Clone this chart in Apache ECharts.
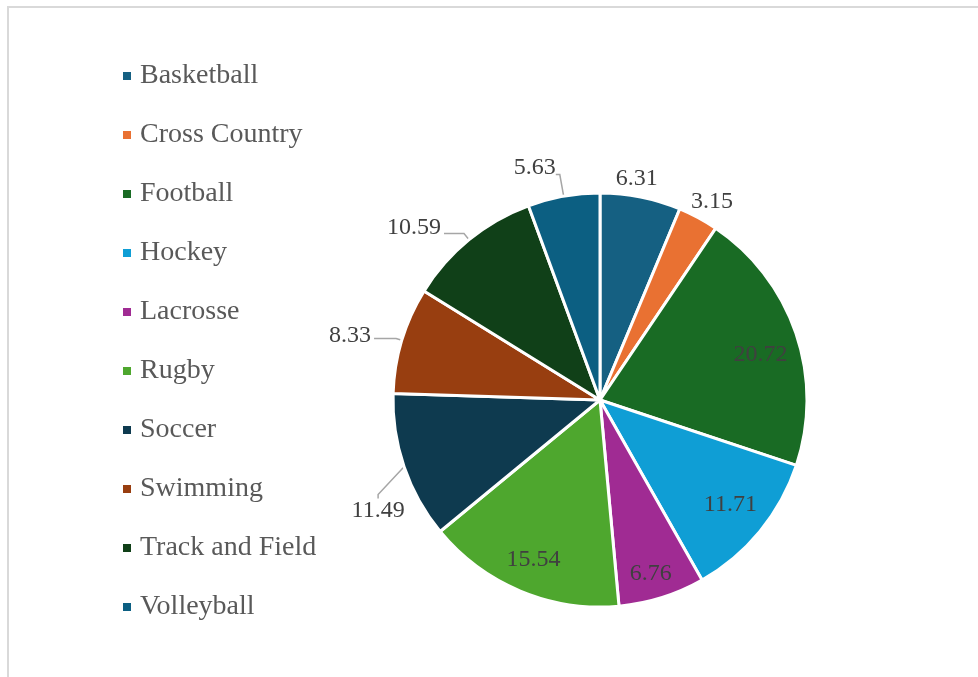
<!DOCTYPE html>
<html>
<head>
<meta charset="utf-8">
<script src="https://cdn.jsdelivr.net/npm/echarts@6/dist/echarts.min.js"></script>
<style>
  html, body { margin: 0; padding: 0; background: #ffffff; }
  #frame { position: absolute; left: 7px; top: 6px; width: 1000px; height: 700px;
           border-left: 2px solid #d9d9d9; border-top: 2px solid #d9d9d9; }
  #chart { position: absolute; left: 0; top: 0; width: 978px; height: 677px; }
</style>
</head>
<body>
<div id="frame"></div>
<div id="chart"></div>
<script>
// Share of athletes by sport (percent)
const sports = ['Basketball', 'Cross Country', 'Football', 'Hockey', 'Lacrosse',
                'Rugby', 'Soccer', 'Swimming', 'Track and Field', 'Volleyball'];
const shares = [6.31, 3.15, 20.72, 11.71, 6.76, 15.54, 11.49, 8.33, 10.59, 5.63];
const sliceColors = ['#156082', '#E97132', '#196B24', '#0F9ED5', '#A02B93',
                     '#4EA72E', '#0E3A4F', '#983E10', '#104018', '#0C5F82'];

// Slices whose value is printed inside the wedge
const insideLabels = ['Football', 'Hockey', 'Lacrosse', 'Rugby'];
// Leader line settings for labels drawn outside the pie
const outsideLines = {
  'Basketball':      { show: false, length: 6, length2: 0 },
  'Cross Country':   { show: false, length: 6, length2: 0 },
  'Volleyball':      { show: true, length: 22, length2: 4 },
  'Track and Field': { show: true, length: 8, length2: 20 },
  'Swimming':        { show: true, length: 6, length2: 22 },
  'Soccer':          { show: true, length: 30, length2: 4 }
};
// Small label nudges [dx, dy] in pixels
const labelNudges = {
  'Basketball':      [-29, -12],
  'Cross Country':   [-13, -11],
  'Volleyball':      [3, -7],
  'Track and Field': [0, -6],
  'Swimming':        [0, -3],
  'Football':        [-3, 10],
  'Hockey':          [-3, -5],
  'Lacrosse':        [-1, 9]
};
// Labels moved further away; their leader line is redrawn to follow
const labelMoves = {
  'Soccer': [36, 34]
};

const FONT = "'Liberation Serif', 'Times New Roman', serif";
const CENTER = [600, 400];
const RADIUS = 207;

const mainData = sports.map((name, i) => {
  const inside = insideLabels.includes(name);
  return {
    name: name,
    value: shares[i],
    itemStyle: { color: sliceColors[i] },
    label: { show: !inside },
    labelLine: inside ? { show: false } : outsideLines[name]
  };
});

const overlayData = sports.map((name, i) => ({
  name: name,
  value: shares[i],
  itemStyle: { color: 'rgba(0,0,0,0)', borderWidth: 0 },
  label: { show: insideLabels.includes(name) }
}));

function nudge(params) {
  const name = sports[params.dataIndex];
  const m = labelMoves[name];
  if (m) {
    const r = params.labelRect;
    return {
      x: r.x + r.width / 2 + m[0],
      y: r.y + r.height / 2 + m[1],
      align: 'center',
      verticalAlign: 'middle'
    };
  }
  const o = labelNudges[name];
  return o ? { dx: o[0], dy: o[1] } : {};
}

const chart = echarts.init(document.getElementById('chart'), null, { renderer: 'canvas' });
chart.setOption({
  backgroundColor: 'transparent',
  animation: false,
  legend: {
    orient: 'vertical',
    left: 116,
    top: 56,
    itemWidth: 10,
    itemHeight: 10,
    itemGap: 29,
    icon: 'rect',
    data: sports,
    selectedMode: false,
    textStyle: {
      fontFamily: FONT,
      fontSize: 28,
      color: '#595959',
      lineHeight: 30,
      padding: [0, 0, 0, 3]
    }
  },
  series: [
    {
      type: 'pie',
      center: CENTER,
      radius: [0, RADIUS],
      startAngle: 90,
      clockwise: true,
      silent: true,
      avoidLabelOverlap: false,
      itemStyle: { borderColor: '#ffffff', borderWidth: 3 },
      label: {
        position: 'outside',
        formatter: p => p.value.toFixed(2),
        fontFamily: FONT,
        fontSize: 24,
        color: '#404040',
        distanceToLabelLine: 3
      },
      labelLine: {
        lineStyle: { color: '#a6a6a6', width: 1.5 },
        smooth: false
      },
      labelLayout: nudge,
      emphasis: { disabled: true },
      data: mainData
    },
    {
      // transparent ring used to place the inside labels near the rim
      type: 'pie',
      center: CENTER,
      radius: [RADIUS * 0.64, RADIUS],
      startAngle: 90,
      clockwise: true,
      silent: true,
      label: {
        position: 'inside',
        formatter: p => p.value.toFixed(2),
        fontFamily: FONT,
        fontSize: 24,
        color: '#404040'
      },
      labelLine: { show: false },
      labelLayout: nudge,
      emphasis: { disabled: true },
      data: overlayData
    }
  ]
});
</script>
</body>
</html>
